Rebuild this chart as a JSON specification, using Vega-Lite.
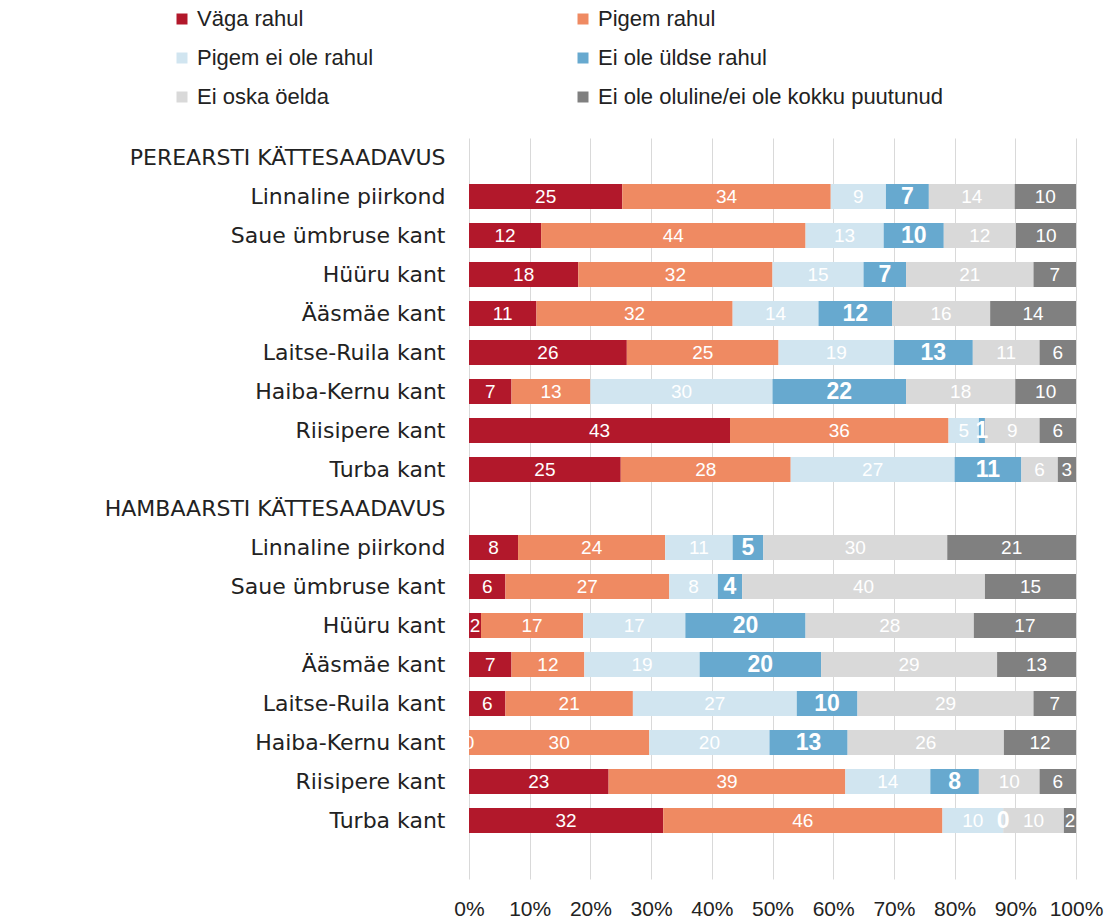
{
  "$schema": "https://vega.github.io/schema/vega-lite/v6.json",
  "autosize": {"type": "none"},
  "width": 607,
  "height": 741,
  "padding": {"left": 469, "top": 138, "right": 33, "bottom": 39},
  "background": "white",
  "config": {"view": {"stroke": null}, "font": "Liberation Sans"},
  "data": {
    "values": [
      {"row": "02|Linnaline piirkond", "Väga rahul": 25, "Pigem rahul": 34, "Pigem ei ole rahul": 9, "Ei ole üldse rahul": 7, "Ei oska öelda": 14, "Ei ole oluline/ei ole kokku puutunud": 10},
      {"row": "03|Saue ümbruse kant", "Väga rahul": 12, "Pigem rahul": 44, "Pigem ei ole rahul": 13, "Ei ole üldse rahul": 10, "Ei oska öelda": 12, "Ei ole oluline/ei ole kokku puutunud": 10},
      {"row": "04|Hüüru kant", "Väga rahul": 18, "Pigem rahul": 32, "Pigem ei ole rahul": 15, "Ei ole üldse rahul": 7, "Ei oska öelda": 21, "Ei ole oluline/ei ole kokku puutunud": 7},
      {"row": "05|Ääsmäe kant", "Väga rahul": 11, "Pigem rahul": 32, "Pigem ei ole rahul": 14, "Ei ole üldse rahul": 12, "Ei oska öelda": 16, "Ei ole oluline/ei ole kokku puutunud": 14},
      {"row": "06|Laitse-Ruila kant", "Väga rahul": 26, "Pigem rahul": 25, "Pigem ei ole rahul": 19, "Ei ole üldse rahul": 13, "Ei oska öelda": 11, "Ei ole oluline/ei ole kokku puutunud": 6},
      {"row": "07|Haiba-Kernu kant", "Väga rahul": 7, "Pigem rahul": 13, "Pigem ei ole rahul": 30, "Ei ole üldse rahul": 22, "Ei oska öelda": 18, "Ei ole oluline/ei ole kokku puutunud": 10},
      {"row": "08|Riisipere kant", "Väga rahul": 43, "Pigem rahul": 36, "Pigem ei ole rahul": 5, "Ei ole üldse rahul": 1, "Ei oska öelda": 9, "Ei ole oluline/ei ole kokku puutunud": 6},
      {"row": "09|Turba kant", "Väga rahul": 25, "Pigem rahul": 28, "Pigem ei ole rahul": 27, "Ei ole üldse rahul": 11, "Ei oska öelda": 6, "Ei ole oluline/ei ole kokku puutunud": 3},
      {"row": "11|Linnaline piirkond", "Väga rahul": 8, "Pigem rahul": 24, "Pigem ei ole rahul": 11, "Ei ole üldse rahul": 5, "Ei oska öelda": 30, "Ei ole oluline/ei ole kokku puutunud": 21},
      {"row": "12|Saue ümbruse kant", "Väga rahul": 6, "Pigem rahul": 27, "Pigem ei ole rahul": 8, "Ei ole üldse rahul": 4, "Ei oska öelda": 40, "Ei ole oluline/ei ole kokku puutunud": 15},
      {"row": "13|Hüüru kant", "Väga rahul": 2, "Pigem rahul": 17, "Pigem ei ole rahul": 17, "Ei ole üldse rahul": 20, "Ei oska öelda": 28, "Ei ole oluline/ei ole kokku puutunud": 17},
      {"row": "14|Ääsmäe kant", "Väga rahul": 7, "Pigem rahul": 12, "Pigem ei ole rahul": 19, "Ei ole üldse rahul": 20, "Ei oska öelda": 29, "Ei ole oluline/ei ole kokku puutunud": 13},
      {"row": "15|Laitse-Ruila kant", "Väga rahul": 6, "Pigem rahul": 21, "Pigem ei ole rahul": 27, "Ei ole üldse rahul": 10, "Ei oska öelda": 29, "Ei ole oluline/ei ole kokku puutunud": 7},
      {"row": "16|Haiba-Kernu kant", "Väga rahul": 0, "Pigem rahul": 30, "Pigem ei ole rahul": 20, "Ei ole üldse rahul": 13, "Ei oska öelda": 26, "Ei ole oluline/ei ole kokku puutunud": 12},
      {"row": "17|Riisipere kant", "Väga rahul": 23, "Pigem rahul": 39, "Pigem ei ole rahul": 14, "Ei ole üldse rahul": 8, "Ei oska öelda": 10, "Ei ole oluline/ei ole kokku puutunud": 6},
      {"row": "18|Turba kant", "Väga rahul": 32, "Pigem rahul": 46, "Pigem ei ole rahul": 10, "Ei ole üldse rahul": 0, "Ei oska öelda": 10, "Ei ole oluline/ei ole kokku puutunud": 2}
    ]
  },
  "transform": [
    {"fold": ["Väga rahul", "Pigem rahul", "Pigem ei ole rahul", "Ei ole üldse rahul", "Ei oska öelda", "Ei ole oluline/ei ole kokku puutunud"], "as": ["cat", "value"]},
    {"calculate": "indexof(['Väga rahul', 'Pigem rahul', 'Pigem ei ole rahul', 'Ei ole üldse rahul', 'Ei oska öelda', 'Ei ole oluline/ei ole kokku puutunud'], datum.cat)", "as": "ci"},
    {"stack": "value", "groupby": ["row"], "sort": [{"field": "ci", "order": "ascending"}], "as": ["x0", "x1"], "offset": "normalize"},
    {"calculate": "(datum.x0 + datum.x1) / 2", "as": "mid"}
  ],
  "encoding": {
    "y": {
      "field": "row",
      "type": "nominal",
      "scale": {
        "domain": ["01|PEREARSTI KÄTTESAADAVUS", "02|Linnaline piirkond", "03|Saue ümbruse kant", "04|Hüüru kant", "05|Ääsmäe kant", "06|Laitse-Ruila kant", "07|Haiba-Kernu kant", "08|Riisipere kant", "09|Turba kant", "10|HAMBAARSTI KÄTTESAADAVUS", "11|Linnaline piirkond", "12|Saue ümbruse kant", "13|Hüüru kant", "14|Ääsmäe kant", "15|Laitse-Ruila kant", "16|Haiba-Kernu kant", "17|Riisipere kant", "18|Turba kant", "19|"],
        "paddingInner": 0.36,
        "paddingOuter": 0.18
      },
      "axis": {
        "title": null,
        "domain": false,
        "ticks": false,
        "grid": false,
        "labelPadding": 24,
        "labelFont": "DejaVu Sans",
        "labelFontSize": 22,
        "labelColor": "#222222",
        "labelLimit": 600,
        "labelExpr": "split(datum.value, '|')[1]"
      }
    }
  },
  "layer": [
    {
      "mark": {"type": "bar"},
      "encoding": {
        "x": {
          "field": "x0",
          "type": "quantitative",
          "scale": {"domain": [0, 1]},
          "axis": {
            "title": null,
            "format": ".0%",
            "values": [0, 0.1, 0.2, 0.3, 0.4, 0.5, 0.6, 0.7, 0.8, 0.9, 1],
            "domain": false,
            "ticks": false,
            "tickSize": 0,
            "labelPadding": 19,
            "labelFontSize": 21,
            "labelColor": "#222222",
            "labelFont": "Liberation Sans",
            "labelOverlap": false,
            "labelFlush": false,
            "labelBound": false,
            "grid": true,
            "gridColor": "#D9D9D9",
            "gridWidth": 1
          }
        },
        "x2": {"field": "x1"},
        "color": {
          "field": "cat",
          "type": "nominal",
          "scale": {
            "domain": ["Väga rahul", "Pigem rahul", "Pigem ei ole rahul", "Ei ole üldse rahul", "Ei oska öelda", "Ei ole oluline/ei ole kokku puutunud"],
            "range": ["#B2182B", "#EF8A62", "#D1E5F0", "#67A9CF", "#D9D9D9", "#808080"]
          },
          "legend": {
            "title": null,
            "orient": "none",
            "direction": "horizontal",
            "legendX": -298,
            "legendY": -130,
            "columns": 2,
            "symbolType": "square",
            "symbolSize": 121,
            "symbolStrokeWidth": 0,
            "labelFontSize": 22,
            "labelColor": "#222222",
            "labelFont": "Liberation Sans",
            "labelLimit": 500,
            "rowPadding": 17,
            "columnPadding": 198,
            "labelOffset": 4,
            "padding": 0
          }
        }
      }
    },
    {
      "transform": [{"filter": "datum.cat != 'Ei ole üldse rahul'"}],
      "mark": {"type": "text", "fill": "white", "fontSize": 19, "font": "Liberation Sans", "clip": true},
      "encoding": {
        "x": {"field": "mid", "type": "quantitative"},
        "text": {"field": "value", "type": "quantitative"}
      }
    },
    {
      "transform": [{"filter": "datum.cat == 'Ei ole üldse rahul'"}],
      "mark": {"type": "text", "fill": "white", "fontSize": 23, "fontWeight": "bold", "font": "Liberation Sans", "clip": true},
      "encoding": {
        "x": {"field": "mid", "type": "quantitative"},
        "text": {"field": "value", "type": "quantitative"}
      }
    }
  ]
}
